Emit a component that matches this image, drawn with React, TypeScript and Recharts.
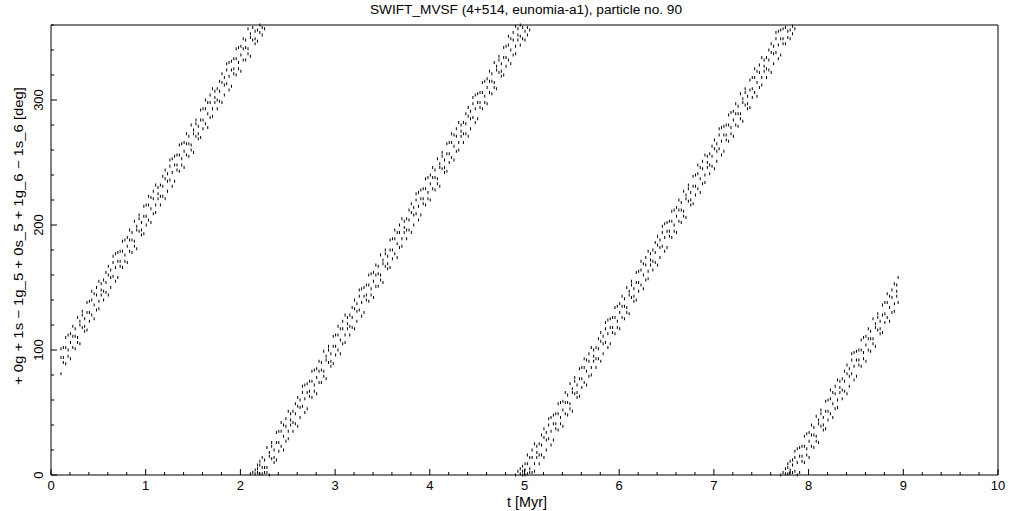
// Resonant angle vs time for one test particle (SWIFT_MVSF output), drawn as a dot scatter.
import { ScatterChart, Scatter, XAxis, YAxis } from "recharts";

const title = "SWIFT_MVSF (4+514, eunomia-a1), particle no. 90";
const xTitle = "t [Myr]";
const yTitle = "+ 0g + 1s \u2212 1g_5 + 0s_5 + 1g_6 \u2212 1s_6 [deg]";

const xMajor = [0, 1, 2, 3, 4, 5, 6, 7, 8, 9, 10];
const yTicks = [0, 20, 40, 60, 80, 100, 120, 140, 160, 180, 200, 220, 240, 260, 280, 300, 320, 340, 360];
const yMajor = [0, 100, 200, 300];

// rows: [t (Myr), angle (deg), angle (deg)...]
const band1 = [
  [0.1, 81, 94, 101], [0.125, 90, 102, 94], [0.15, 102, 89, 110], [0.175, 100, 112, 95], [0.2, 113, 93, 106],
  [0.225, 102, 111, 119], [0.25, 111, 101, 117], [0.275, 126, 110, 106], [0.3, 105, 123, 120], [0.325, 128, 118, 131],
  [0.35, 115, 125, 119], [0.375, 130, 138, 116], [0.4, 123, 139, 130], [0.425, 140, 128, 147], [0.45, 136, 125, 145],
  [0.475, 150, 132, 144], [0.5, 139, 155, 133], [0.525, 148, 144, 153], [0.55, 140, 156, 147], [0.575, 162, 146, 154],
  [0.6, 144, 160, 167], [0.625, 164, 158, 150], [0.65, 159, 170, 175], [0.675, 177, 155, 166], [0.7, 158, 171, 178],
  [0.725, 167, 179, 171], [0.75, 179, 166, 187], [0.775, 176, 188, 171], [0.8, 190, 170, 183], [0.825, 179, 188, 196],
  [0.85, 188, 178, 194], [0.875, 203, 187, 183], [0.9, 181, 199, 196], [0.925, 205, 195, 208], [0.95, 192, 202, 196],
  [0.975, 207, 215, 193], [1.0, 200, 216, 207], [1.025, 216, 204, 223], [1.05, 213, 202, 222], [1.075, 227, 209, 221],
  [1.1, 216, 232, 210], [1.125, 225, 221, 230], [1.15, 216, 232, 223], [1.175, 239, 223, 231], [1.2, 221, 237, 244],
  [1.225, 241, 235, 227], [1.25, 236, 247, 252], [1.275, 253, 231, 242], [1.3, 235, 248, 255], [1.325, 244, 256, 248],
  [1.35, 256, 243, 264], [1.375, 253, 265, 248], [1.4, 266, 246, 259], [1.425, 256, 265, 273], [1.45, 265, 255, 271],
  [1.475, 280, 264, 260], [1.5, 258, 276, 273], [1.525, 281, 271, 284], [1.55, 269, 279, 273], [1.575, 284, 292, 270],
  [1.6, 277, 293, 284], [1.625, 293, 281, 300], [1.65, 289, 278, 298], [1.675, 304, 286, 298], [1.7, 293, 309, 287],
  [1.725, 302, 298, 307], [1.75, 293, 309, 300], [1.775, 315, 299, 307], [1.8, 298, 314, 321], [1.825, 318, 312, 304],
  [1.85, 313, 324, 329], [1.875, 330, 308, 319], [1.9, 311, 324, 331], [1.925, 321, 333, 325], [1.95, 333, 320, 341],
  [1.975, 330, 342, 325], [2.0, 343, 323, 336], [2.025, 332, 341, 349], [2.05, 342, 332, 348], [2.075, 357, 341, 337],
  [2.1, 335, 353, 350], [2.125, 358, 348], [2.15, 345, 355, 349], [2.175, 347, 356], [2.2, 354, 360], [2.225, 352, 358],
  [2.25, 357],
];

const band2 = [
  [2.1, 1], [2.125, 2], [2.15, 4, 1], [2.175, 8, 2, 5], [2.2, 8, 1, 11], [2.225, 6, 14, 1], [2.25, 6, 12, 2],
  [2.275, 22, 6, 2], [2.3, 0, 18, 15], [2.325, 23, 13, 26], [2.35, 10, 20, 14], [2.375, 26, 34, 12], [2.4, 19, 35, 26],
  [2.425, 35, 23, 42], [2.45, 31, 20, 40], [2.475, 45, 27, 39], [2.5, 35, 51, 29], [2.525, 44, 40, 49], [2.55, 35, 51, 42],
  [2.575, 57, 41, 49], [2.6, 39, 55, 62], [2.625, 60, 54, 46], [2.65, 55, 66, 71], [2.675, 72, 50, 61], [2.7, 53, 66, 73],
  [2.725, 63, 75, 67], [2.75, 75, 62, 83], [2.775, 72, 84, 67], [2.8, 85, 65, 78], [2.825, 74, 83, 91], [2.85, 84, 74, 90],
  [2.875, 99, 83, 79], [2.9, 77, 95, 92], [2.925, 100, 90, 103], [2.95, 87, 97, 91], [2.975, 103, 111, 89],
  [3.0, 96, 112, 103], [3.025, 112, 100, 119], [3.05, 108, 97, 117], [3.075, 123, 105, 117], [3.1, 112, 128, 106],
  [3.125, 121, 117, 126], [3.15, 112, 128, 119], [3.175, 134, 118, 126], [3.2, 117, 133, 140], [3.225, 137, 131, 123],
  [3.25, 132, 143, 148], [3.275, 149, 127, 138], [3.3, 130, 143, 150], [3.325, 140, 152, 144], [3.35, 152, 139, 160],
  [3.375, 149, 161, 144], [3.4, 162, 142, 155], [3.425, 151, 160, 168], [3.45, 161, 151, 167], [3.475, 176, 160, 156],
  [3.5, 154, 172, 169], [3.525, 177, 167, 180], [3.55, 165, 175, 169], [3.575, 180, 188, 166], [3.6, 173, 189, 180],
  [3.625, 189, 177, 196], [3.65, 185, 174, 194], [3.675, 200, 182, 194], [3.7, 189, 205, 183], [3.725, 198, 194, 203],
  [3.75, 189, 205, 196], [3.775, 212, 196, 204], [3.8, 194, 210, 217], [3.825, 214, 208, 200], [3.85, 209, 220, 225],
  [3.875, 226, 204, 215], [3.9, 208, 221, 228], [3.925, 217, 229, 221], [3.95, 229, 216, 237], [3.975, 226, 238, 221],
  [4.0, 240, 220, 233], [4.025, 229, 238, 246], [4.05, 238, 228, 244], [4.075, 253, 237, 233], [4.1, 231, 249, 246],
  [4.125, 255, 245, 258], [4.15, 242, 252, 246], [4.175, 257, 265, 243], [4.2, 250, 266, 257], [4.225, 266, 254, 273],
  [4.25, 263, 252, 272], [4.275, 277, 259, 271], [4.3, 266, 282, 260], [4.325, 275, 271, 280], [4.35, 266, 282, 273],
  [4.375, 289, 273, 281], [4.4, 271, 287, 294], [4.425, 291, 285, 277], [4.45, 286, 297, 302], [4.475, 304, 282, 293],
  [4.5, 285, 298, 305], [4.525, 294, 306, 298], [4.55, 306, 293, 314], [4.575, 303, 315, 298], [4.6, 317, 297, 310],
  [4.625, 306, 315, 323], [4.65, 315, 305, 321], [4.675, 330, 314, 310], [4.7, 309, 327, 324], [4.725, 332, 322, 335],
  [4.75, 319, 329, 323], [4.775, 334, 342, 320], [4.8, 327, 343, 334], [4.825, 344, 332, 351], [4.85, 340, 329, 349],
  [4.875, 354, 336, 348], [4.9, 343, 359, 337], [4.925, 352, 348, 357], [4.95, 344, 360, 351], [4.975, 349, 358],
  [5.0, 348, 355], [5.025, 352, 358], [5.05, 356],
];

const band3 = [
  [4.9, 0], [4.925, 3], [4.95, 1, 5], [4.975, 7, 3, 0], [5.0, 9, 0, 4], [5.025, 9, 16, 1], [5.05, 5, 14, 2],
  [5.075, 20, 2, 14], [5.1, 9, 25, 3], [5.125, 18, 14, 23], [5.15, 9, 25, 16], [5.175, 32, 16, 24], [5.2, 14, 30, 37],
  [5.225, 34, 28, 20], [5.25, 29, 40, 45], [5.275, 46, 24, 35], [5.3, 28, 41, 48], [5.325, 37, 49, 41], [5.35, 49, 36, 57],
  [5.375, 46, 58, 41], [5.4, 59, 39, 52], [5.425, 49, 58, 66], [5.45, 58, 48, 64], [5.475, 73, 57, 53], [5.5, 51, 69, 66],
  [5.525, 75, 65, 78], [5.55, 62, 72, 66], [5.575, 77, 85, 63], [5.6, 70, 86, 77], [5.625, 86, 74, 93], [5.65, 83, 72, 92],
  [5.675, 97, 79, 91], [5.7, 86, 102, 80], [5.725, 95, 91, 100], [5.75, 86, 102, 93], [5.775, 109, 93, 101],
  [5.8, 91, 107, 114], [5.825, 111, 105, 97], [5.85, 106, 117, 122], [5.875, 124, 102, 113], [5.9, 105, 118, 125],
  [5.925, 114, 126, 118], [5.95, 126, 113, 134], [5.975, 123, 135, 118], [6.0, 137, 117, 130], [6.025, 126, 135, 143],
  [6.05, 135, 125, 141], [6.075, 150, 134, 130], [6.1, 129, 147, 144], [6.125, 152, 142, 155], [6.15, 139, 149, 143],
  [6.175, 154, 162, 140], [6.2, 147, 163, 154], [6.225, 164, 152, 171], [6.25, 160, 149, 169], [6.275, 174, 156, 168],
  [6.3, 163, 179, 157], [6.325, 172, 168, 177], [6.35, 164, 180, 171], [6.375, 186, 170, 178], [6.4, 168, 184, 191],
  [6.425, 188, 182, 174], [6.45, 183, 194, 199], [6.475, 201, 179, 190], [6.5, 182, 195, 202], [6.525, 191, 203, 195],
  [6.55, 203, 190, 211], [6.575, 200, 212, 195], [6.6, 214, 194, 207], [6.625, 203, 212, 220], [6.65, 212, 202, 218],
  [6.675, 227, 211, 207], [6.7, 206, 224, 221], [6.725, 229, 219, 232], [6.75, 216, 226, 220], [6.775, 231, 239, 217],
  [6.8, 224, 240, 231], [6.825, 241, 229, 248], [6.85, 237, 226, 246], [6.875, 251, 233, 245], [6.9, 240, 256, 234],
  [6.925, 250, 246, 255], [6.95, 241, 257, 248], [6.975, 263, 247, 255], [7.0, 245, 261, 268], [7.025, 265, 259, 251],
  [7.05, 261, 272, 277], [7.075, 278, 256, 267], [7.1, 259, 272, 279], [7.125, 268, 280, 272], [7.15, 280, 267, 288],
  [7.175, 278, 290, 273], [7.2, 291, 271, 284], [7.225, 280, 289, 297], [7.25, 289, 279, 295], [7.275, 305, 289, 285],
  [7.3, 283, 301, 298], [7.325, 306, 296, 309], [7.35, 293, 303, 297], [7.375, 308, 316, 294], [7.4, 302, 318, 309],
  [7.425, 318, 306, 325], [7.45, 314, 303, 323], [7.475, 328, 310, 322], [7.5, 318, 334, 312], [7.525, 327, 323, 332],
  [7.55, 318, 334, 325], [7.575, 340, 324, 332], [7.6, 322, 338, 345], [7.625, 343, 337, 329], [7.65, 338, 349, 354],
  [7.675, 355, 333, 344], [7.7, 336, 349, 356], [7.725, 345, 357, 349], [7.75, 358, 345], [7.775, 355, 350],
  [7.8, 349, 356], [7.825, 353, 359], [7.85, 357],
];

const band4 = [
  [7.7, 0], [7.725, 2], [7.75, 5, 1], [7.775, 6, 1, 9], [7.8, 4, 11, 2], [7.825, 8, 2, 12], [7.85, 3, 14, 19],
  [7.875, 21, 0, 10], [7.9, 2, 15, 22], [7.925, 11, 23, 15], [7.95, 23, 10, 31], [7.975, 21, 33, 16], [8.0, 34, 14, 27],
  [8.025, 23, 32, 40], [8.05, 32, 22, 38], [8.075, 47, 31, 27], [8.1, 26, 44, 41], [8.125, 49, 39, 52], [8.15, 36, 46, 40],
  [8.175, 51, 59, 37], [8.2, 44, 60, 51], [8.225, 61, 49, 68], [8.25, 57, 46, 66], [8.275, 71, 53, 65], [8.3, 60, 76, 54],
  [8.325, 70, 66, 75], [8.35, 61, 77, 68], [8.375, 83, 67, 75], [8.4, 65, 81, 88], [8.425, 85, 79, 71], [8.45, 81, 92, 97],
  [8.475, 98, 76, 87], [8.5, 79, 92, 99], [8.525, 88, 100, 92], [8.55, 100, 87, 108], [8.575, 98, 110, 93],
  [8.6, 111, 91, 104], [8.625, 100, 109, 117], [8.65, 109, 99, 115], [8.675, 125, 109, 105], [8.7, 103, 121, 118],
  [8.725, 126, 116, 129], [8.75, 113, 123, 117], [8.775, 128, 136, 114], [8.8, 122, 138, 129], [8.825, 138, 126, 145],
  [8.85, 134, 123, 143], [8.875, 148, 130, 142], [8.9, 137, 153, 131], [8.925, 147, 143, 152], [8.94, 158, 138],
];

const points = [band1, band2, band3, band4].flatMap((band) =>
  band.flatMap(([t, ...ys]) => ys.map((y) => ({ t, y })))
);

// majors plus four minor ticks between each pair
const xTicks = xMajor.flatMap((v, i) =>
  i < xMajor.length - 1 ? [0, 1, 2, 3, 4].map((k) => Math.round((v + k * 0.2) * 10) / 10) : [v]
);
const isXMajor = (v: number) => xMajor.includes(v);
const isYMajor = (v: number) => yMajor.includes(v);

const FONT = "'Liberation Sans', Arial, sans-serif";

const BottomTick = ({ x, y, payload }: any) => {
  const major = isXMajor(payload.value);
  return (
    <g>
      <line x1={x} x2={x} y1={y} y2={y - (major ? 6 : 3)} stroke="#000" />
      {major && (
        <text x={x} y={y + 15} textAnchor="middle" fontSize={13} fontFamily={FONT} fill="#000">
          {payload.value}
        </text>
      )}
    </g>
  );
};

const TopTick = ({ x, y, payload }: any) => (
  <line x1={x} x2={x} y1={y} y2={y + (isXMajor(payload.value) ? 6 : 3)} stroke="#000" />
);

const LeftTick = ({ x, y, payload }: any) => {
  const major = isYMajor(payload.value);
  const tx = x - 8;
  return (
    <g>
      <line x1={x} x2={x + (major ? 6 : 3)} y1={y} y2={y} stroke="#000" />
      {major && (
        <text x={tx} y={y} transform={`rotate(-90 ${tx} ${y})`} textAnchor="middle" fontSize={13} fontFamily={FONT} fill="#000">
          {payload.value}
        </text>
      )}
    </g>
  );
};

const RightTick = ({ x, y, payload }: any) => (
  <line x1={x} x2={x - (isYMajor(payload.value) ? 6 : 3)} y1={y} y2={y} stroke="#000" />
);

const Dot = (p: any) => <rect x={p.cx} y={p.cy - 1.5} width={1} height={3} fill="#000" />;

export default function App() {
  return (
    <div style={{ position: "relative", width: 1021, height: 511, background: "#fff" }}>
      <style>{"body{margin:0}"}</style>
      <ScatterChart width={1021} height={511} margin={{ top: 0, right: 0, bottom: 0, left: 0 }}>
        <XAxis xAxisId="b" dataKey="t" type="number" domain={[0, 10]} ticks={xTicks} interval={0}
          height={36} tickSize={0} tickMargin={0} tickLine={false} tick={<BottomTick />} stroke="#000" />
        <XAxis xAxisId="top" orientation="top" type="number" domain={[0, 10]} ticks={xTicks} interval={0}
          height={25} tickSize={0} tickMargin={0} tickLine={false} tick={<TopTick />} stroke="#000" />
        <YAxis yAxisId="l" dataKey="y" type="number" domain={[0, 360]} ticks={yTicks} interval={0}
          width={51} tickSize={0} tickMargin={0} tickLine={false} tick={<LeftTick />} stroke="#000" />
        <YAxis yAxisId="r" orientation="right" type="number" domain={[0, 360]} ticks={yTicks} interval={0}
          width={23} tickSize={0} tickMargin={0} tickLine={false} tick={<RightTick />} stroke="#000" />
        <Scatter xAxisId="b" yAxisId="l" data={points} shape={<Dot />} isAnimationActive={false} />
        <Scatter xAxisId="top" yAxisId="r" data={[]} isAnimationActive={false} />
      </ScatterChart>
      <svg width={1021} height={511} style={{ position: "absolute", left: 0, top: 0, pointerEvents: "none" }}
        fontFamily={FONT} fill="#000">
        <text x={526} y={14} textAnchor="middle" fontSize={12.5} textLength={312} lengthAdjust="spacingAndGlyphs">{title}</text>
        <text x={527} y={507} textAnchor="middle" fontSize={14} textLength={40} lengthAdjust="spacingAndGlyphs">{xTitle}</text>
        <text x={23} y={236} transform="rotate(-90 23 236)" textAnchor="middle" fontSize={12.5}
          textLength={298} lengthAdjust="spacingAndGlyphs">{yTitle}</text>
      </svg>
    </div>
  );
}
